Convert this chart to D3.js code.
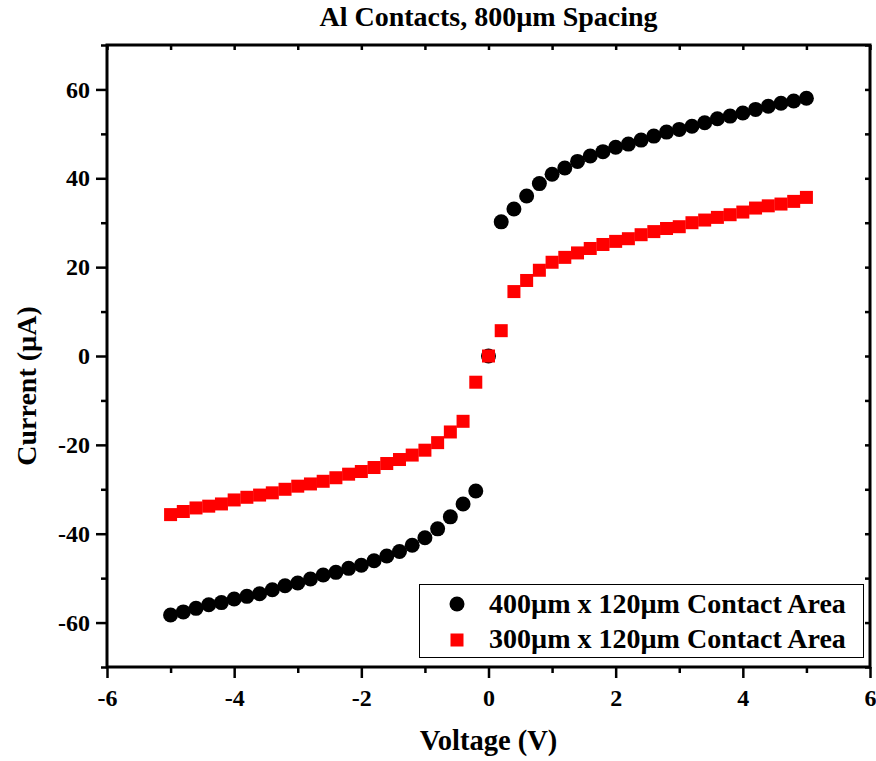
<!DOCTYPE html>
<html>
<head>
<meta charset="utf-8">
<script src="https://cdn.jsdelivr.net/npm/d3@7"></script>
<style>
  html, body { margin: 0; padding: 0; background: #fff; }
  svg text { font-family: "Liberation Serif", "Times New Roman", serif; font-weight: bold; fill: #000; }
</style>
</head>
<body>
<svg id="chart" width="876" height="761"></svg>
<script>
// ---- data ----
const voltage = [-5.0,-4.8,-4.6,-4.4,-4.2,-4.0,-3.8,-3.6,-3.4,-3.2,-3.0,-2.8,-2.6,-2.4,-2.2,-2.0,-1.8,-1.6,-1.4,-1.2,-1.0,-0.8,-0.6,-0.4,-0.2,
  0.0,0.2,0.4,0.6,0.8,1.0,1.2,1.4,1.6,1.8,2.0,2.2,2.4,2.6,2.8,3.0,3.2,3.4,3.6,3.8,4.0,4.2,4.4,4.6,4.8,5.0];
const current400 = [-58.3,-57.6,-56.8,-56.0,-55.5,-54.7,-54.1,-53.5,-52.6,-51.7,-51.1,-50.2,-49.3,-48.7,-47.8,-47.1,-46.1,-45.0,-44.0,-42.6,-40.9,-38.9,-36.2,-33.3,-30.4,
  0.0,30.2,33.1,36.0,38.8,40.9,42.3,43.8,45.0,46.0,47.0,47.7,48.6,49.5,50.4,51.0,51.7,52.5,53.4,54.0,54.7,55.5,56.2,56.9,57.4,58.0];
const current300 = [-35.7,-35.0,-34.2,-33.8,-33.3,-32.4,-31.8,-31.3,-30.8,-30.0,-29.3,-28.8,-28.2,-27.4,-26.6,-26.0,-25.1,-24.2,-23.3,-22.3,-21.2,-19.5,-17.1,-14.7,-5.9,
  0.0,5.7,14.5,17.0,19.3,21.1,22.2,23.2,24.2,25.1,25.8,26.4,27.3,28.0,28.7,29.1,30.0,30.6,31.2,31.8,32.4,33.3,33.8,34.2,34.8,35.7];
const seriesNames = ["400\u00b5m x 120\u00b5m Contact Area", "300\u00b5m x 120\u00b5m Contact Area"];
const xMajorTicks = [-6,-4,-2,0,2,4,6];
const xMinorTicks = [-5,-3,-1,1,3,5];
const yMajorTicks = [-60,-40,-20,0,20,40,60];
const yMinorTicks = [-70,-50,-30,-10,10,30,50,70];
const titleText = "Al Contacts, 800\u00b5m Spacing";
const xLabel = "Voltage (V)";
const yLabel = "Current (\u00b5A)";

// ---- layout ----
const svg = d3.select("#chart");
const L = 107, R = 870, T = 45, B = 667;
const x = d3.scaleLinear().domain([-6, 6]).range([L, R]);
const y = d3.scaleLinear().domain([-70, 70]).range([B, T]);

// title
svg.append("text").attr("x", (L + R) / 2).attr("y", 26).attr("text-anchor", "middle")
  .style("font-size", "28px").text(titleText);

// axes
function styleAxis(g) {
  g.select(".domain").remove();
  g.selectAll(".tick line").attr("stroke", "#000").attr("stroke-width", 2.5);
  g.selectAll("text").style("font-size", "24px").style("font-family", "Liberation Serif").style("font-weight", "bold");
}
const fmt = d => d < 0 ? "-" + Math.abs(d) : String(d);

// bottom
svg.append("g").attr("transform", `translate(0,${B})`)
  .call(d3.axisBottom(x).tickValues(xMajorTicks).tickSize(11).tickPadding(11).tickFormat(fmt)).call(styleAxis);
svg.append("g").attr("transform", `translate(0,${B})`)
  .call(d3.axisBottom(x).tickValues(xMinorTicks).tickSize(6).tickFormat("")).call(styleAxis);
// left
svg.append("g").attr("transform", `translate(${L},0)`)
  .call(d3.axisLeft(y).tickValues(yMajorTicks).tickSize(11).tickPadding(6).tickFormat(fmt)).call(styleAxis);
svg.append("g").attr("transform", `translate(${L},0)`)
  .call(d3.axisLeft(y).tickValues(yMinorTicks).tickSize(6).tickFormat("")).call(styleAxis);
// top (inward)
svg.append("g").attr("transform", `translate(0,${T})`)
  .call(d3.axisBottom(x).tickValues(xMajorTicks.concat(xMinorTicks)).tickSize(5).tickFormat("")).call(styleAxis);
// right (inward)
svg.append("g").attr("transform", `translate(${R},0)`)
  .call(d3.axisLeft(y).tickValues(yMajorTicks.concat(yMinorTicks)).tickSize(5).tickFormat("")).call(styleAxis);

// frame
svg.append("rect").attr("x", L).attr("y", T).attr("width", R - L).attr("height", B - T)
  .attr("fill", "none").attr("stroke", "#000").attr("stroke-width", 3);

// axis labels
svg.append("text").attr("x", (L + R) / 2).attr("y", 750).attr("text-anchor", "middle")
  .style("font-size", "28.5px").text(xLabel);
svg.append("text").attr("transform", `translate(36,386) rotate(-90)`).attr("text-anchor", "middle")
  .style("font-size", "28px").text(yLabel);

// data
const pts400 = voltage.map((v, i) => ({ v, c: current400[i] }));
const pts300 = voltage.map((v, i) => ({ v, c: current300[i] }));
svg.append("g").selectAll("circle").data(pts400).join("circle")
  .attr("cx", d => x(d.v)).attr("cy", d => y(d.c)).attr("r", 7.5).attr("fill", "#000");
const sq = 13;
svg.append("g").selectAll("rect").data(pts300).join("rect")
  .attr("x", d => x(d.v) - sq / 2).attr("y", d => y(d.c) - sq / 2)
  .attr("width", sq).attr("height", sq).attr("fill", "#ff0000");

// legend
const lg = svg.append("g");
lg.append("rect").attr("x", 419.5).attr("y", 584.5).attr("width", 444).attr("height", 73)
  .attr("fill", "#fff").attr("stroke", "#000").attr("stroke-width", 1);
lg.append("circle").attr("cx", 457).attr("cy", 604).attr("r", 7.5).attr("fill", "#000");
lg.append("rect").attr("x", 457 - sq / 2).attr("y", 640 - sq / 2).attr("width", sq).attr("height", sq).attr("fill", "#ff0000");
lg.append("text").attr("x", 489).attr("y", 613).style("font-size", "28px").text(seriesNames[0]);
lg.append("text").attr("x", 489).attr("y", 648).style("font-size", "28px").text(seriesNames[1]);
</script>
</body>
</html>
